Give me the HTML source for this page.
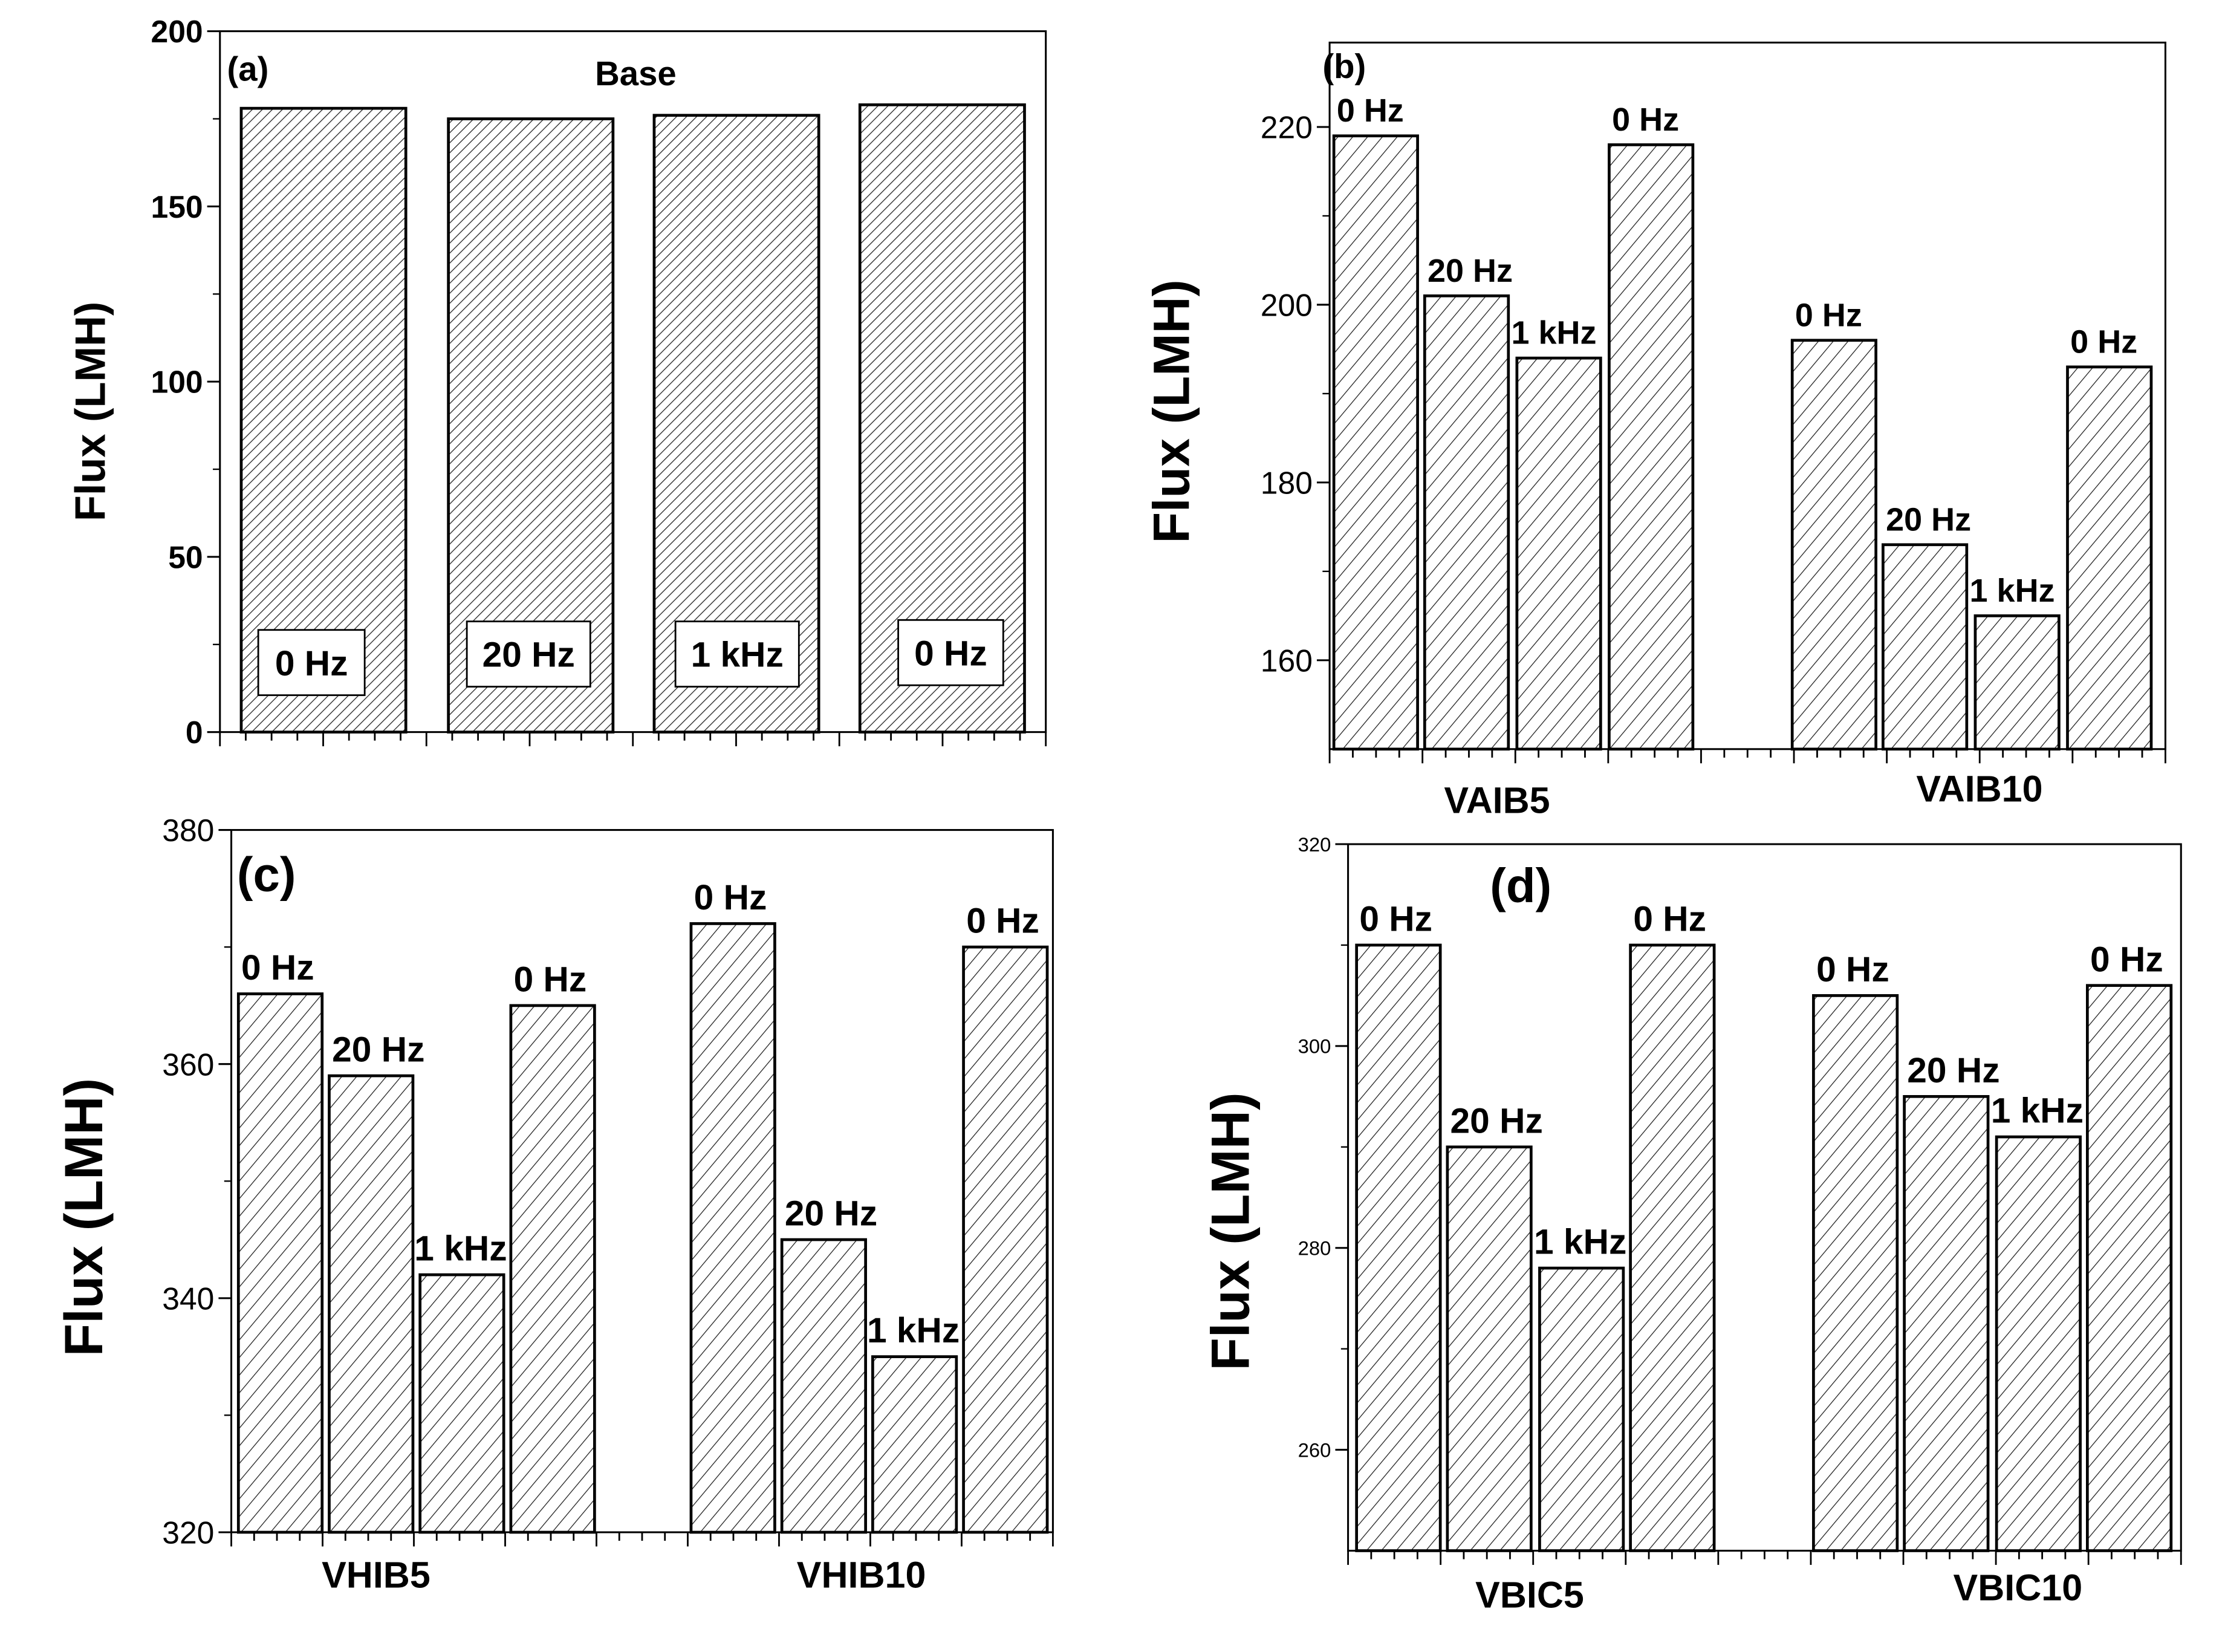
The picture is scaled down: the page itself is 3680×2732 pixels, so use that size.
<!DOCTYPE html>
<html><head><meta charset="utf-8"><style>
html,body{margin:0;padding:0;background:#fff}
svg{display:block}
text{font-family:"Liberation Sans",sans-serif;font-weight:bold;fill:#000}
</style></head><body>
<svg id="fig" xmlns="http://www.w3.org/2000/svg" width="3680" height="2732" viewBox="0 0 1568 1164.4" preserveAspectRatio="none">
<defs>
<pattern id="hatchA" patternUnits="userSpaceOnUse" width="5" height="5" patternTransform="rotate(45)"><line x1="0" y1="0" x2="0" y2="5" stroke="#222" stroke-width="1.1"/></pattern>
<pattern id="hatchB" patternUnits="userSpaceOnUse" width="8" height="8" patternTransform="rotate(40)"><line x1="0" y1="0" x2="0" y2="8" stroke="#222" stroke-width="1.1"/></pattern>
</defs>
</svg>
<script>
const NS='http://www.w3.org/2000/svg';
const svg=document.getElementById('fig');
// Panel (a)
const aCats=['0 Hz','20 Hz','1 kHz','0 Hz'];
const aVals=[178,175,176,179];
const aTicks=[0,50,100,150,200];
// Panel (b)
const bCats=['0 Hz','20 Hz','1 kHz','0 Hz','0 Hz','20 Hz','1 kHz','0 Hz'];
const bVals=[219,201,194,218,196,173,165,193];
const bTicks=[160,180,200,220];
const bGroups=['VAIB5','VAIB10'];
// Panel (c)
const cCats=['0 Hz','20 Hz','1 kHz','0 Hz','0 Hz','20 Hz','1 kHz','0 Hz'];
const cVals=[366,359,342,365,372,345,335,370];
const cTicks=[320,340,360,380];
const cGroups=['VHIB5','VHIB10'];
// Panel (d)
const dCats=['0 Hz','20 Hz','1 kHz','0 Hz','0 Hz','20 Hz','1 kHz','0 Hz'];
const dVals=[310,290,278,310,305,295,291,306];
const dTicks=[260,280,300,320];
const dGroups=['VBIC5','VBIC10'];

function el(tag,attrs,parent){const e=document.createElementNS(NS,tag);for(const k in attrs)e.setAttribute(k,attrs[k]);(parent||svg).appendChild(e);return e;}
function txt(s,attrs,parent){const t=el('text',attrs,parent);t.textContent=s;return t;}

function panel(cfg){
  const g=el('g',{});
  
  
  const {L,T,R,B,ymin,ymax}=cfg;
  const y=v=>B-(v-ymin)/(ymax-ymin)*(B-T);
  const fr=el('rect',{x:L,y:T,width:R-L,height:B-T,fill:'none',stroke:'#000','stroke-width':1.3},g);
  
  
  cfg.vals.forEach((v,i)=>{
    const x0=cfg.barX(i), w=cfg.barW;
    const r=el('rect',{x:x0,y:y(v),width:w,height:B-y(v),fill:'url(#'+cfg.hatch+')',stroke:'#000','stroke-width':2},g);
    
    
    if(cfg.inBox){
      const bx=x0+cfg.boxOff[i], by=cfg.boxY[i];
      const b=el('rect',{x:bx,y:by,width:cfg.boxW[i],height:46,fill:'#fff',stroke:'#000','stroke-width':1.2},g);
      
      
      const t=txt(cfg.cats[i],{x:bx+cfg.boxW[i]/2,y:by+32,'font-size':25,'text-anchor':'middle'},g);
      
      
    } else {
      const t=txt(cfg.cats[i],{x:x0+(cfg.cats[i]==='1 kHz'?-4:2),y:y(v)-cfg.lblGap,'font-size':cfg.lblSize},g);
      
      
    }
  });
  cfg.ticks.forEach(v=>{
    const yy=y(v);
    const l=el('line',{x1:L-9,x2:L,y1:yy,y2:yy,stroke:'#000','stroke-width':1.3},g);
    
    
    const t=txt(String(v),{x:L-12,y:yy+cfg.tickSize*0.36,'font-size':cfg.tickSize,'text-anchor':'end'},g);
    t.style.fontWeight=cfg.tickBold?'bold':'normal';
    
    
  });
  const step=cfg.ticks[1]-cfg.ticks[0];
  for(let k=-1;k<cfg.ticks.length;k++){
    const v=cfg.ticks[0]+k*step+step/2;
    if(v<ymax&&v>ymin){const l=el('line',{x1:L-5,x2:L,y1:y(v),y2:y(v),stroke:'#000','stroke-width':1},g);}
  }
  const n=Math.round((R-L)/cfg.xStep);
  for(let k=0;k<=n;k++){
    const xx=L+k*(R-L)/n;
    const len=(k%4===0)?10:6;
    const l=el('line',{x1:xx,x2:xx,y1:B,y2:B+len,stroke:'#000','stroke-width':1.2},g);
    
    
  }
  (cfg.groups||[]).forEach((s,i)=>{
    const t=txt(s,{x:cfg.groupX[i],y:cfg.groupY[i],'font-size':26,'text-anchor':'middle'},g);
    
    
  });
  const pl=txt(cfg.letter,{x:cfg.letterXY[0],y:cfg.letterXY[1],'font-size':cfg.letterSize},g);
  
  
  const yt=txt('Flux (LMH)',{x:0,y:0,'font-size':cfg.titleSize,'text-anchor':'middle',transform:'translate('+cfg.titleXY[0]+','+cfg.titleXY[1]+') rotate(-90)'},g);
  
  
  return {g,y};
}

const aStarts=[170,316,461,606];
const pa=panel({name:'panel-a',L:155,T:22,R:737,B:516,ymin:0,ymax:200,vals:aVals,cats:aCats,ticks:aTicks,
  barX:i=>aStarts[i],barW:116,hatch:'hatchA',inBox:true,boxOff:[12,13,15,27],boxY:[444,438,438,437],boxW:[75,87,87,74],
  xStep:18,tickSize:22,tickBold:true,letter:'(a)',letterXY:[160,57],letterSize:24,titleXY:[74,290],titleSize:30});
const base=txt('Base',{x:448,y:60,'font-size':24,'text-anchor':'middle'},pa.g);



const bStarts=[940,1004,1069,1134,1263,1327,1392,1457];
panel({name:'panel-b',L:937,T:30,R:1526,B:528,ymin:150,ymax:229.5,vals:bVals,cats:bCats,ticks:bTicks,groups:bGroups,groupX:[1055,1395],groupY:[573,565],
  barX:i=>bStarts[i],barW:59,hatch:'hatchB',lblGap:10,lblSize:23,xStep:16.4,tickSize:22,letter:'(b)',letterXY:[932,55],letterSize:24,titleXY:[838,290],titleSize:36});

const cStarts=[168,232,296,360,487,551,615,679];
panel({name:'panel-c',L:163,T:585,R:742,B:1080,ymin:320,ymax:380,vals:cVals,cats:cCats,ticks:cTicks,groups:cGroups,groupX:[265,607],groupY:[1119,1119],
  barX:i=>cStarts[i],barW:59,hatch:'hatchB',lblGap:10,lblSize:25,xStep:16.1,tickSize:22,letter:'(c)',letterXY:[167,628],letterSize:34,titleXY:[72,858],titleSize:38});

const dStarts=[956,1020,1085,1149,1278,1342,1407,1471];
panel({name:'panel-d',L:950,T:595,R:1537,B:1093,ymin:250,ymax:320,vals:dVals,cats:dCats,ticks:dTicks,groups:dGroups,groupX:[1078,1422],groupY:[1133,1128],
  barX:i=>dStarts[i],barW:59,hatch:'hatchB',lblGap:10,lblSize:25,xStep:16.3,tickSize:14,letter:'(d)',letterXY:[1050,636],letterSize:34,titleXY:[880,868],titleSize:38});
</script>
</body></html>
